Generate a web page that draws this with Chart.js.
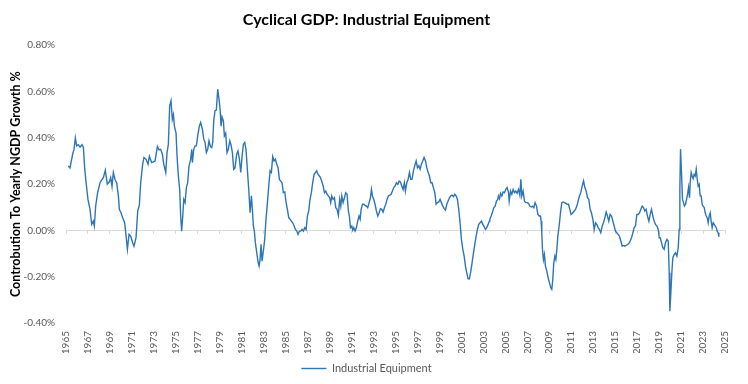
<!DOCTYPE html>
<html><head><meta charset="utf-8">
<script src="https://cdn.jsdelivr.net/npm/chart.js@4/dist/chart.umd.min.js"></script>
<style>html,body{margin:0;padding:0;background:#fff}</style>
</head><body><canvas id="c" width="748" height="384"></canvas>
<script>
const chartTitle = 'Cyclical GDP: Industrial Equipment';
const yAxisTitle = 'Controbution To Yearly NGDP Growth %';
const seriesName = 'Industrial Equipment';
const xAxisYears = [1965, 2025, 2];      // first label, last label, step
const yAxisPercent = [-0.4, 0.8, 0.2];   // min, max, step

const years = [
1965.21,1965.36,1965.61,1965.73,1965.85,1965.97,1966.12,1966.28,1966.46,1966.58,1966.70,1966.82,1967.00,1967.19,1967.34,1967.49,1967.58,1967.70,1967.88,1968.10,1968.28,1968.40,1968.58,1968.76,1968.95,1969.07,1969.19,1969.31,1969.46,1969.61,1969.77,1969.86,1970.01,1970.16,1970.34,1970.47,1970.59,1970.74,1970.89,1971.07,1971.19,1971.38,1971.53,1971.68,1971.80,1971.98,1972.10,1972.29,1972.47,1972.59,
1972.80,1972.95,1973.11,1973.32,1973.47,1973.62,1973.77,1973.90,1974.08,1974.20,1974.32,1974.44,1974.56,1974.68,1974.78,1974.87,1975.02,1975.11,1975.23,1975.35,1975.44,1975.53,1975.63,1975.72,1975.84,1975.96,1976.08,1976.20,1976.35,1976.45,1976.51,1976.63,1976.75,1976.87,1976.99,1977.14,1977.26,1977.42,1977.54,1977.66,1977.78,1977.90,1978.02,1978.15,1978.27,1978.36,1978.45,1978.57,1978.69,1978.81,1978.93,1979.03,1979.12,1979.21,1979.33,1979.42,1979.54,1979.66,1979.78,1979.91,1980.03,1980.15,1980.27,1980.39,
1980.54,1980.66,1980.79,1980.91,1981.03,1981.15,1981.27,1981.39,1981.51,1981.64,1981.76,1981.88,1981.97,1982.06,1982.15,1982.24,1982.37,1982.49,1982.58,1982.67,1982.76,1982.85,1982.97,1983.09,1983.21,1983.34,1983.46,1983.58,1983.70,1983.82,1983.94,1984.06,1984.19,1984.31,1984.43,1984.55,1984.67,1984.79,1984.92,1985.04,1985.16,1985.28,1985.40,1985.52,1985.64,1985.77,1985.89,1986.01,1986.13,1986.25,1986.37,1986.49,1986.61,1986.74,1986.86,1986.98,1987.10,1987.22,1987.34,1987.46,1987.59,1987.71,1987.83,1987.95,1988.07,
1988.16,1988.28,1988.41,1988.53,1988.65,1988.77,1988.89,1989.01,1989.10,1989.20,1989.32,1989.44,1989.56,1989.68,1989.80,1989.92,1990.02,1990.11,1990.23,1990.35,1990.47,1990.59,1990.71,1990.80,1990.90,1991.02,1991.11,1991.20,1991.32,1991.44,1991.56,1991.68,1991.78,1991.87,1991.99,1992.11,1992.23,1992.35,1992.47,1992.60,1992.72,1992.81,1992.90,1993.02,1993.14,1993.26,1993.39,1993.51,1993.63,1993.75,1993.87,1993.99,1994.11,1994.23,1994.36,1994.48,1994.60,1994.72,1994.84,1994.96,1995.08,1995.21,1995.33,1995.45,1995.57,1995.69,1995.81,
1995.90,1996.03,1996.15,1996.27,1996.39,1996.51,1996.63,1996.75,1996.88,1997.00,1997.12,1997.24,1997.36,1997.48,1997.60,1997.73,1997.85,1997.97,1998.09,1998.21,1998.33,1998.45,1998.58,1998.70,1998.82,1998.94,1999.06,1999.18,1999.31,1999.43,1999.55,1999.67,1999.79,1999.91,2000.03,2000.15,2000.28,2000.40,2000.52,2000.64,2000.76,2000.88,2001.00,2001.13,2001.25,2001.37,2001.49,2001.61,2001.73,2001.86,2001.98,2002.10,2002.22,2002.34,2002.46,2002.58,2002.70,2002.83,2002.95,2003.07,2003.19,2003.31,2003.43,2003.54,
2003.59,2003.71,2003.83,2003.95,2004.07,2004.19,2004.31,2004.37,2004.47,2004.56,2004.68,2004.80,2004.92,2005.04,2005.16,2005.29,2005.35,2005.47,2005.59,2005.71,2005.83,2005.95,2006.07,2006.20,2006.32,2006.41,2006.50,2006.62,2006.74,2006.86,2006.99,2007.11,2007.23,2007.35,2007.47,2007.59,2007.71,2007.84,2007.96,2008.08,2008.20,2008.26,2008.32,2008.38,2008.47,2008.56,2008.65,2008.78,2008.90,2009.02,2009.14,2009.23,2009.32,2009.41,2009.51,2009.60,2009.69,2009.78,2009.90,2010.02,2010.14,2010.26,2010.39,2010.51,2010.63,2010.75,2010.87,2010.99,2011.11,
2011.27,2011.39,2011.51,2011.63,2011.75,2011.87,2012.00,2012.12,2012.24,2012.36,2012.48,2012.60,2012.72,2012.84,2012.97,2013.09,2013.21,2013.33,2013.45,2013.57,2013.69,2013.82,2013.94,2014.06,2014.18,2014.30,2014.42,2014.54,2014.67,2014.79,2014.91,2015.03,2015.15,2015.27,2015.39,2015.52,2015.64,2015.76,2015.88,2016.00,2016.12,2016.25,2016.37,2016.49,2016.61,2016.73,2016.85,2016.97,2017.09,2017.22,2017.34,2017.46,2017.58,2017.70,2017.82,2017.94,2018.07,2018.19,2018.31,2018.43,2018.55,2018.67,2018.80,2018.92,2019.01,
2019.10,2019.22,2019.34,2019.46,2019.58,2019.71,2019.83,2019.92,2019.98,2020.07,2020.16,2020.25,2020.37,2020.49,2020.62,2020.74,2020.83,2020.89,2020.95,2021.04,2021.13,2021.22,2021.31,2021.41,2021.50,2021.59,2021.68,2021.77,2021.83,2021.92,2022.01,2022.10,2022.19,2022.29,2022.38,2022.47,2022.56,2022.65,2022.74,2022.83,2022.92,2023.01,2023.11,2023.20,2023.29,2023.38,2023.47,2023.56,2023.65,2023.74,2023.83,2023.93,2024.02,2024.11,2024.20,2024.29,2024.38,2024.44
];

const values = [
0.278,0.27,0.33,0.35,0.40,0.365,0.37,0.36,0.37,0.36,0.27,0.21,0.134,0.09,0.026,0.04,0.019,0.105,0.163,0.206,0.22,0.228,0.26,0.20,0.21,0.228,0.19,0.25,0.22,0.206,0.149,0.09,0.076,0.055,0.033,-0.025,-0.082,-0.017,-0.025,-0.053,-0.068,-0.03,0.084,0.11,0.206,0.286,0.315,0.307,0.286,0.32,
0.293,0.296,0.30,0.362,0.348,0.35,0.33,0.286,0.25,0.336,0.372,0.538,0.56,0.48,0.50,0.45,0.42,0.32,0.235,0.177,0.062,-0.003,0.062,0.134,0.12,0.185,0.206,0.278,0.307,0.35,0.293,0.35,0.365,0.365,0.408,0.45,0.466,0.437,0.394,0.38,0.336,0.35,0.387,0.362,0.358,0.38,0.473,0.517,0.52,0.61,0.567,0.524,0.45,0.49,0.473,0.408,0.42,0.336,0.35,0.387,0.368,0.336,0.264,0.27,
0.329,0.343,0.307,0.25,0.32,0.372,0.38,0.35,0.264,0.177,0.076,0.149,0.09,0.019,-0.003,-0.053,-0.097,-0.137,-0.154,-0.126,-0.06,-0.133,-0.089,-0.039,0.048,0.12,0.192,0.257,0.25,0.319,0.30,0.307,0.286,0.271,0.22,0.213,0.206,0.163,0.166,0.12,0.09,0.055,0.048,0.04,0.033,0.019,0.004,-0.003,-0.017,-0.003,-0.003,0.004,-0.003,0.012,0.004,0.062,0.084,0.134,0.163,0.206,0.242,0.25,0.257,0.242,0.235,
0.228,0.213,0.192,0.163,0.17,0.156,0.149,0.141,0.12,0.149,0.134,0.141,0.098,0.091,0.065,0.134,0.105,0.149,0.12,0.141,0.163,0.156,0.084,0.062,0.012,0.019,0.001,0.012,-0.003,0.012,0.04,0.062,0.048,0.091,0.113,0.113,0.108,0.105,0.098,0.12,0.141,0.177,0.149,0.134,0.113,0.084,0.062,0.076,0.094,0.091,0.079,0.098,0.113,0.134,0.149,0.152,0.156,0.17,0.185,0.192,0.206,0.199,0.213,0.209,0.192,0.177,0.206,
0.17,0.206,0.221,0.25,0.22,0.221,0.257,0.279,0.30,0.271,0.279,0.264,0.286,0.30,0.315,0.30,0.271,0.25,0.235,0.206,0.206,0.185,0.163,0.113,0.12,0.123,0.134,0.12,0.105,0.094,0.088,0.113,0.127,0.141,0.149,0.152,0.146,0.156,0.149,0.134,0.09,0.033,-0.039,-0.082,-0.111,-0.154,-0.183,-0.209,-0.209,-0.176,-0.137,-0.097,-0.06,-0.025,0.004,0.026,0.033,0.04,0.026,0.016,0.004,0.012,0.026,0.04,
0.048,0.062,0.079,0.098,0.105,0.127,0.134,0.149,0.137,0.16,0.149,0.166,0.163,0.177,0.185,0.163,0.127,0.17,0.156,0.177,0.163,0.17,0.16,0.177,0.152,0.221,0.149,0.17,0.127,0.12,0.12,0.117,0.105,0.101,0.105,0.098,0.12,0.105,0.069,0.062,0.062,0.04,-0.01,-0.082,-0.126,-0.104,-0.154,-0.176,-0.205,-0.227,-0.248,-0.255,-0.212,-0.14,-0.111,-0.126,-0.082,-0.025,0.019,0.076,0.12,0.123,0.12,0.117,0.113,0.113,0.091,0.069,0.074,
0.084,0.091,0.105,0.127,0.149,0.163,0.192,0.214,0.185,0.17,0.141,0.134,0.091,0.076,0.048,0.004,0.033,0.026,0.012,0.004,-0.01,0.019,0.033,0.055,0.079,0.062,0.04,0.069,0.062,0.04,0.019,-0.003,-0.01,-0.017,-0.025,-0.046,-0.068,-0.065,-0.068,-0.065,-0.061,-0.056,-0.046,-0.032,-0.01,0.012,0.019,0.069,0.069,0.076,0.091,0.105,0.098,0.084,0.091,0.062,0.04,0.069,0.091,0.062,0.04,0.026,0.019,0.004,-0.032,
-0.032,-0.053,-0.075,-0.082,-0.053,-0.039,-0.046,-0.183,-0.349,-0.27,-0.183,-0.118,-0.104,-0.097,-0.111,-0.075,0.004,0.177,0.351,0.25,0.134,0.12,0.105,0.113,0.134,0.156,0.185,0.141,0.206,0.25,0.235,0.224,0.242,0.235,0.264,0.221,0.192,0.199,0.149,0.149,0.113,0.105,0.098,0.076,0.062,0.055,0.033,0.062,0.076,0.04,0.012,0.033,0.026,0.019,0.012,-0.003,-0.01,-0.027
];

const FONT = 'Lato, "Open Sans", sans-serif';
const GRAY = '#595959';
const BLUE = '#2E75B6';

const points = years.map((x, i) => ({x: x, y: values[i]}));

new Chart(document.getElementById('c'), {
  type: 'line',
  data: { datasets: [{
    label: seriesName, data: points, xAxisID: 'x', yAxisID: 'y',
    borderColor: BLUE, backgroundColor: BLUE, borderWidth: 1.4,
    pointRadius: 0, tension: 0, fill: false
  }]},
  options: {
    responsive: false, devicePixelRatio: 1, animation: false,
    layout: { padding: { left: 8, right: 23, top: 0, bottom: 0 } },
    plugins: {
      tooltip: { enabled: false },
      title: { display: true, text: chartTitle, color: '#000',
        font: { family: FONT, size: 16, weight: 'bold' }, padding: { top: 10, bottom: 16 } },
      legend: { position: 'bottom',
        labels: { color: GRAY, font: { family: FONT, size: 11 }, usePointStyle: true,
          pointStyle: 'line', pointStyleWidth: 25, padding: 10 } }
    },
    scales: {
      x: { type: 'linear', position: 'bottom', min: xAxisYears[0], max: xAxisYears[1],
        grid: { display: false, drawTicks: false }, border: { display: false },
        ticks: { stepSize: xAxisYears[2], autoSkip: false, minRotation: 90, maxRotation: 90,
          color: GRAY, font: { family: FONT, size: 10 }, padding: 8,
          callback: v => String(v) },
        afterFit: s => { s.height = 30; } },
      x2: { type: 'linear', axis: 'x', position: { y: 0 }, min: xAxisYears[0], max: xAxisYears[1],
        grid: { drawOnChartArea: false, drawTicks: true, tickLength: 3, color: '#d9d9d9' },
        border: { display: true, color: '#d9d9d9', width: 1 },
        ticks: { display: false, stepSize: xAxisYears[2], autoSkip: false } },
      y: { type: 'linear', min: yAxisPercent[0], max: yAxisPercent[1],
        grid: { display: false, drawTicks: false }, border: { display: false },
        ticks: { stepSize: yAxisPercent[2], color: GRAY, font: { family: FONT, size: 10 }, padding: 11,
          callback: v => v.toFixed(2) + '%' },
        title: { display: true, text: yAxisTitle, color: '#000',
          font: { family: FONT, size: 12.5, weight: 'bold' }, padding: { top: 0, bottom: 0 } },
        afterFit: s => { s.width = 58; } }
    }
  }
});
</script></body></html>
